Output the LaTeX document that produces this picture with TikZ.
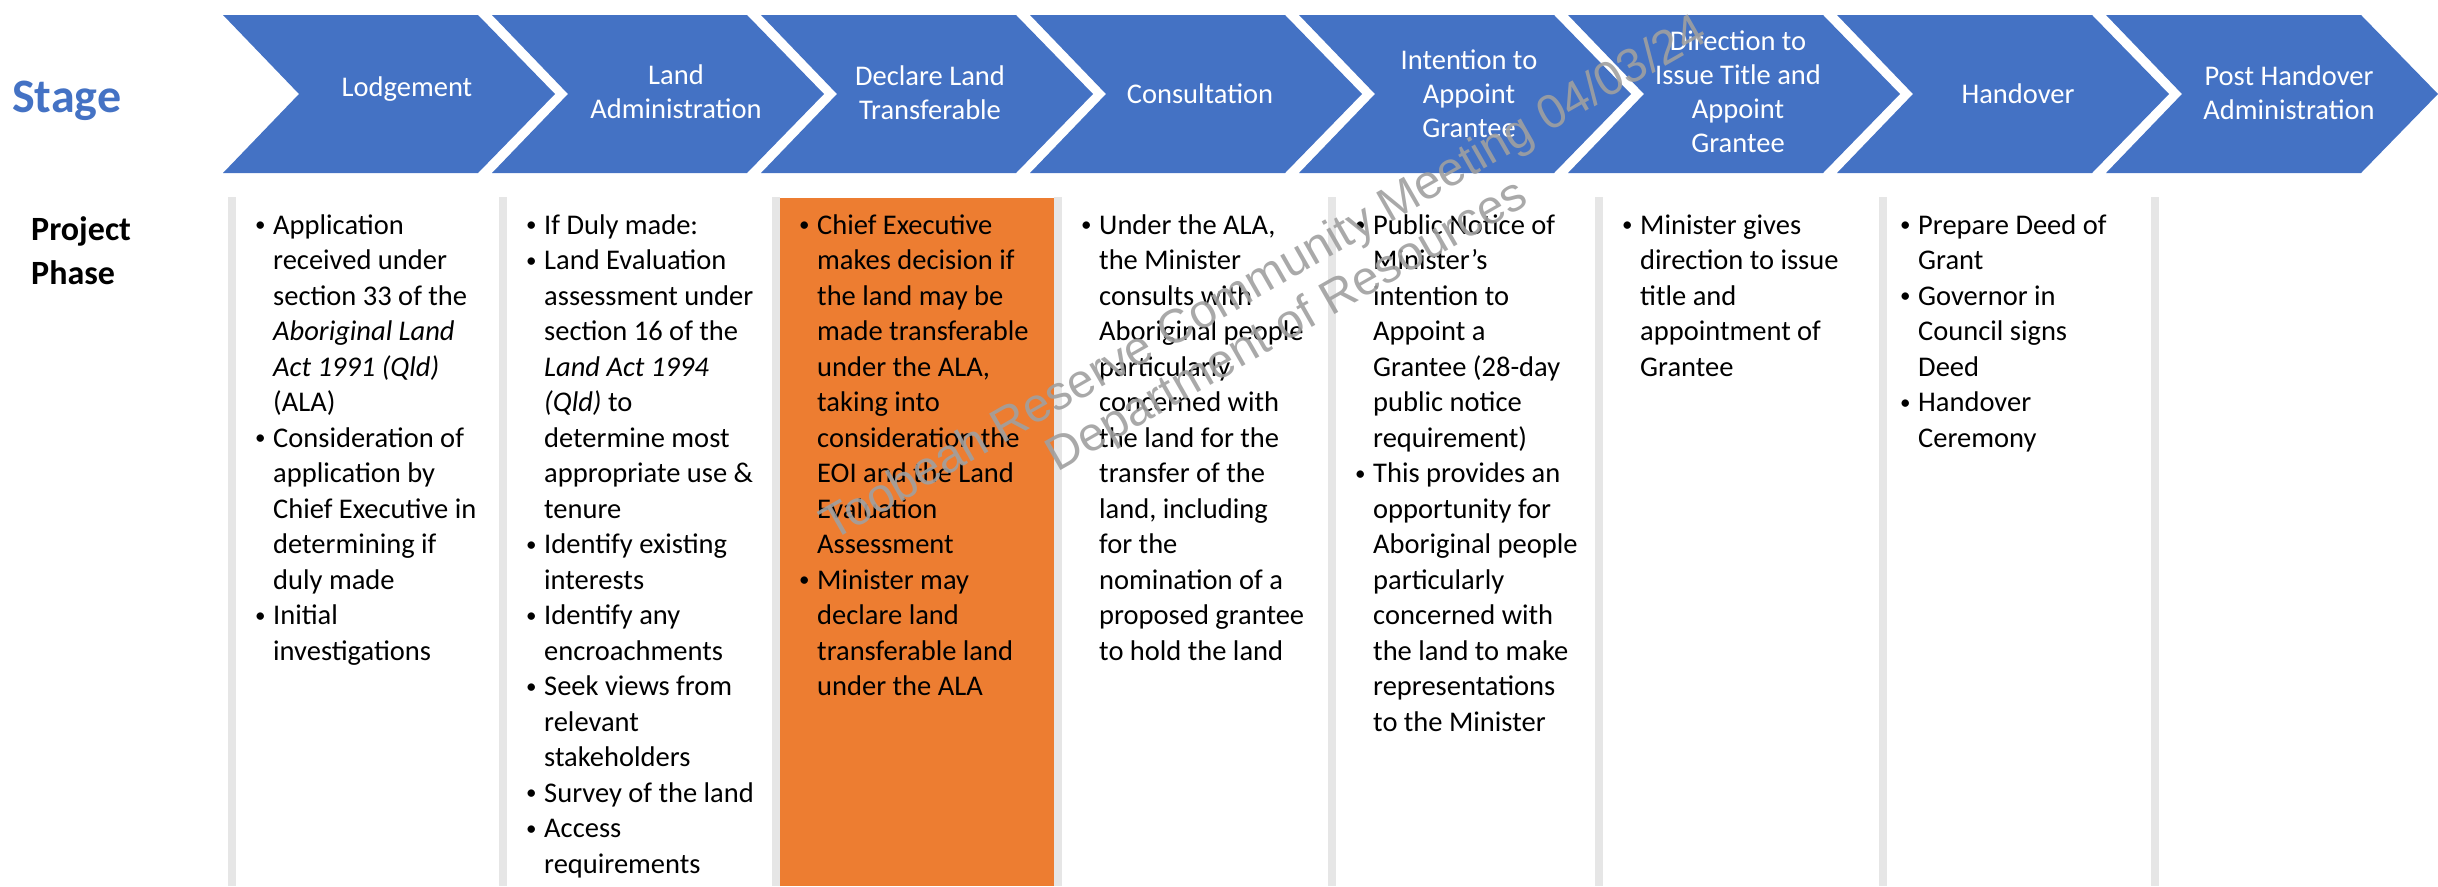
\documentclass[tikz,border=0pt]{standalone}
\usepackage{fontspec}
\setmainfont{Carlito}
\newfontfamily\wmfont{Liberation Sans}
\definecolor{stageblue}{HTML}{4472C4}
\definecolor{declorange}{HTML}{ED7D31}
\definecolor{bargray}{HTML}{E6E6E6}
\definecolor{wmgray}{HTML}{A0A0A0}
\newcommand{\bul}{\makebox[19pt][l]{\hspace{1pt}\raisebox{2.5pt}{\fontsize{21}{21}\selectfont\textbullet}}}

\begin{document}
\begin{tikzpicture}[
    x=1pt,y=-1pt,
    chevron/.style={fill=stageblue},
    stagelabel/.style={
        text=white,
        align=center,
        inner sep=0pt,
        font=\fontsize{28.5}{34}\selectfont,
      },
    phasebar/.style={fill=bargray},
    phasetext/.style={
        anchor=north west,
        inner sep=0pt,
        font=\fontsize{28.5}{35.5}\selectfont,
      },
    watermark/.style={
        text=wmgray,
        text opacity=0.9,
        rotate=29.7,
        anchor=base,
        inner sep=0pt,
        font=\wmfont\fontsize{47.7}{56}\selectfont,
      },
  ]
  \useasboundingbox (0,0) rectangle (2438,886);

  \node[anchor=base west,inner sep=0pt,text=stageblue,font=\fontsize{48}{58}\selectfont\bfseries] (stage) at (12,112) {Stage};
  \node[anchor=north west,inner sep=0pt,align=left,font=\fontsize{34}{44}\selectfont\bfseries] (phase) at (31,216) {Project\\Phase};

  \foreach \Value/\Xpos/\Ypos/\Label in {
      1/407/89/Lodgement,
      2/676/92/{Land\\Administration},
      3/930/93/{Declare Land\\Transferable},
      4/1200/94/Consultation,
      5/1469/94/{Intention to\\Appoint\\Grantee},
      6/1738/92/{Direction to\\Issue Title and\\Appoint\\Grantee},
      7/2018/94/Handover,
      8/2289/93/{Post Handover\\Administration}}
    {
      \pgfmathsetmacro\Left{223+269*(\Value-1)}
      \fill[chevron] (\Left,15) -- ++(255,0) -- ++(77,79) -- ++(-77,79) -- ++(-255,0) -- ++(76,-79) -- cycle;
      \node[stagelabel] (s\Value) at (\Xpos,\Ypos) {\Label};
    }

  \foreach \Bar in {228,499,772,1054,1328,1595,1879,2151}
  \fill[phasebar] (\Bar,197) rectangle ++(8,689);
  \fill[declorange] (780,198) rectangle (1054,886);

  \node[phasetext] (p1) at (254,209) {\begin{tabular}{@{}l@{}l@{}}
      \bul & Application\\
           & received under\\
           & section 33 of the\\
           & \textit{Aboriginal Land}\\
           & \textit{Act 1991 (Qld)}\\
           & (ALA)\\
      \bul & Consideration of\\
           & application by\\
           & Chief Executive in\\
           & determining if\\
           & duly made\\
      \bul & Initial\\
           & investigations
    \end{tabular}};
  \node[phasetext] (p2) at (525,209) {\begin{tabular}{@{}l@{}l@{}}
      \bul & If Duly made:\\
      \bul & Land Evaluation\\
           & assessment under\\
           & section 16 of the\\
           & \textit{Land Act 1994}\\
           & \textit{(Qld)} to\\
           & determine most\\
           & appropriate use \&\\
           & tenure\\
      \bul & Identify existing\\
           & interests\\
      \bul & Identify any\\
           & encroachments\\
      \bul & Seek views from\\
           & relevant\\
           & stakeholders\\
      \bul & Survey of the land\\
      \bul & Access\\
           & requirements
    \end{tabular}};
  \node[phasetext] (p3) at (798,209) {\begin{tabular}{@{}l@{}l@{}}
      \bul & Chief Executive\\
           & makes decision if\\
           & the land may be\\
           & made transferable\\
           & under the ALA,\\
           & taking into\\
           & consideration the\\
           & EOI and the Land\\
           & Evaluation\\
           & Assessment\\
      \bul & Minister may\\
           & declare land\\
           & transferable land\\
           & under the ALA
    \end{tabular}};
  \node[phasetext] (p4) at (1080,209) {\begin{tabular}{@{}l@{}l@{}}
      \bul & Under the ALA,\\
           & the Minister\\
           & consults with\\
           & Aboriginal people\\
           & particularly\\
           & concerned with\\
           & the land for the\\
           & transfer of the\\
           & land, including\\
           & for the\\
           & nomination of a\\
           & proposed grantee\\
           & to hold the land
    \end{tabular}};
  \node[phasetext] (p5) at (1354,209) {\begin{tabular}{@{}l@{}l@{}}
      \bul & Public Notice of\\
           & Minister’s\\
           & intention to\\
           & Appoint a\\
           & Grantee (28-day\\
           & public notice\\
           & requirement)\\
      \bul & This provides an\\
           & opportunity for\\
           & Aboriginal people\\
           & particularly\\
           & concerned with\\
           & the land to make\\
           & representations\\
           & to the Minister
    \end{tabular}};
  \node[phasetext] (p6) at (1621,209) {\begin{tabular}{@{}l@{}l@{}}
      \bul & Minister gives\\
           & direction to issue\\
           & title and\\
           & appointment of\\
           & Grantee
    \end{tabular}};
  \node[phasetext] (p7) at (1899,209) {\begin{tabular}{@{}l@{}l@{}}
      \bul & Prepare Deed of\\
           & Grant\\
      \bul & Governor in\\
           & Council signs\\
           & Deed\\
      \bul & Handover\\
           & Ceremony
    \end{tabular}};

  \node[watermark] (wm1) at (1271,291) {Toobeah Reserve Community Meeting 04/03/24};
  \node[watermark] (wm2) at (1294,338) {Department of Resources};
\end{tikzpicture}
\end{document}
